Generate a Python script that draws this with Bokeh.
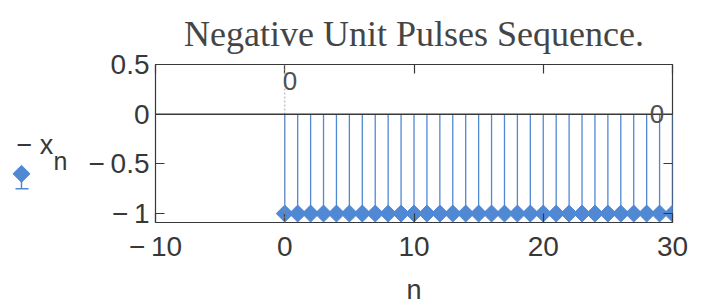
from bokeh.plotting import figure
from bokeh.models import Range1d, FixedTicker, LinearAxis, Span, Label
from bokeh.layouts import row
from bokeh.core.properties import value
from bokeh.embed import file_html
from bokeh.resources import INLINE

# ---- data ----
n = [0, 1, 2, 3, 4, 5, 6, 7, 8, 9, 10, 11, 12, 13, 14, 15, 16, 17, 18, 19, 20,
     21, 22, 23, 24, 25, 26, 27, 28, 29, 30]
neg_x = [-1, -1, -1, -1, -1, -1, -1, -1, -1, -1, -1, -1, -1, -1, -1, -1, -1, -1,
         -1, -1, -1, -1, -1, -1, -1, -1, -1, -1, -1, -1, -1]
x_ticks = [-10, 0, 10, 20, 30]
x_tick_labels = ["\u2212\u200910", "0", "10", "20", "30"]
y_ticks = [-1, -0.5, 0, 0.5]
y_tick_labels = ["\u2212\u20091", "\u2212\u20090.5", "0", "0.5"]
title_text = "Negative Unit Pulses Sequence."

BLUE = "#5088d4"
DARK = "#383838"
SANS = "Liberation Sans"
Y0, Y1 = -1.09, 0.5

p = figure(width=630, height=307, output_backend="svg", toolbar_location=None,
           x_range=Range1d(-10, 30), y_range=Range1d(Y0, Y1),
           min_border_left=72, min_border_right=41, min_border_top=63,
           min_border_bottom=85)
p.background_fill_color = None
p.border_fill_color = None
p.outline_line_color = DARK
p.outline_line_width = 1.2
p.grid.visible = False

p.title.text = title_text
p.title.align = "center"
p.title.text_font = "Liberation Serif"
p.title.text_font_size = "36px"
p.title.text_font_style = "normal"
p.title.text_color = "#454545"
p.title.text_line_height = 0.8
p.title.standoff = 22

def style_axis(ax, ticks, labels):
    ax.ticker = FixedTicker(ticks=ticks)
    ax.major_label_overrides = {t: l for t, l in zip(ticks, labels)}
    ax.major_tick_in = 9
    ax.major_tick_out = 0
    ax.minor_tick_line_color = None
    ax.axis_line_color = None
    ax.major_tick_line_color = DARK
    ax.major_tick_line_width = 1.2
    ax.major_label_text_font = SANS
    ax.major_label_text_font_size = "28px"
    ax.major_label_text_color = DARK

style_axis(p.xaxis[0], x_ticks, x_tick_labels)
style_axis(p.yaxis[0], y_ticks, y_tick_labels)
p.xaxis[0].major_label_standoff = 8
p.yaxis[0].major_label_standoff = 6
p.xaxis[0].axis_label = "n"
p.xaxis[0].axis_label_text_font = SANS
p.xaxis[0].axis_label_text_font_size = "27px"
p.xaxis[0].axis_label_text_font_style = "normal"
p.xaxis[0].axis_label_text_color = DARK
p.xaxis[0].axis_label_standoff = 10

top = LinearAxis()
style_axis(top, x_ticks, x_tick_labels)
top.major_label_text_font_size = "0px"
top.major_label_standoff = 0
p.add_layout(top, "above")
right = LinearAxis()
style_axis(right, y_ticks, y_tick_labels)
right.major_label_text_font_size = "0px"
right.major_label_standoff = 0
p.add_layout(right, "right")

p.add_layout(Span(location=0, dimension="height", line_color="#999999",
                  line_width=0.8, line_dash="2 2"))
p.add_layout(Span(location=0, dimension="width", line_color=DARK, line_width=1.4))

p.segment(x0=n, y0=[0] * len(n), x1=n, y1=neg_x, line_color=BLUE, line_width=1.3)
p.scatter(x=n, y=neg_x, marker="square", angle=0.785398, size=12,
          fill_color=BLUE, line_color=BLUE)

p.add_layout(Label(x=-0.15, y=0.42, text="0", text_font=SANS,
                   text_font_size="26px", text_color="#505050",
                   text_align="left", text_baseline="top"))
p.add_layout(Label(x=28.8, y=0.0, text="0", text_font=SANS,
                   text_font_size="26px", text_color="#505050",
                   text_align="center", text_baseline="middle"))

# ---- legend panel on the left (its frame is aligned with the main frame) ----
lg = figure(width=83, height=307, output_backend="svg", toolbar_location=None,
            x_range=Range1d(0, 83), y_range=Range1d(Y0, Y1), min_border=0,
            x_axis_location=None, y_axis_location=None)
lg.grid.visible = False
lg.outline_line_color = None
lg.background_fill_color = None
lg.border_fill_color = None
lg.text(x=[16], y=[-0.31], text=["\u2212 x"], text_font=value(SANS),
        text_font_size="27px", text_color=DARK, text_baseline="alphabetic")
lg.text(x=[53], y=[-0.47], text=["n"], text_font=value(SANS),
        text_font_size="25px", text_color=DARK, text_baseline="alphabetic")
lg.segment(x0=[21], y0=[-0.60], x1=[21], y1=[-0.75], line_color=BLUE, line_width=1.5)
lg.segment(x0=[15], y0=[-0.75], x1=[28], y1=[-0.75], line_color=BLUE, line_width=1.5)
lg.scatter(x=[21], y=[-0.60], marker="square", angle=0.785398, size=12,
           fill_color=BLUE, line_color=BLUE)

layout = row(lg, p, spacing=0)
open("out.html", "w").write(file_html(layout, INLINE))
